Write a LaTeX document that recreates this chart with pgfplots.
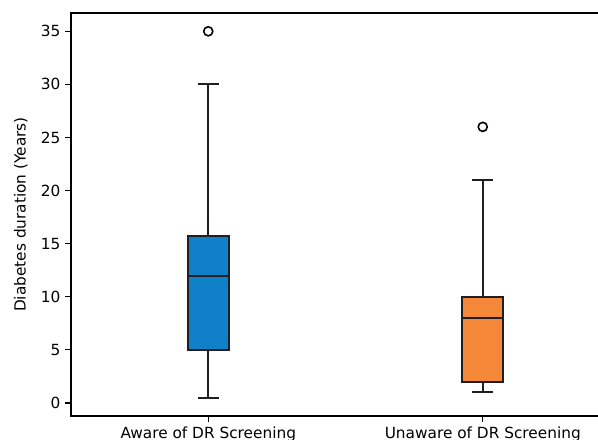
\documentclass[border=0pt]{standalone}
\usepackage{fontspec}
\setmainfont{DejaVu Sans}
\usepackage{pgfplots}
\pgfplotsset{compat=1.18}
\usepgfplotslibrary{statistics}
\definecolor{boxblue}{RGB}{16,128,200}
\definecolor{boxorange}{RGB}{245,136,56}
\definecolor{edge}{RGB}{30,30,35}
\begin{document}
\begin{tikzpicture}
\begin{axis}[
  scale only axis,
  width=411.75pt, height=302.25pt,
  xmin=0.5, xmax=2.5,
  ymin=-1.225, ymax=36.725,
  xtick={1,2},
  xticklabels={Aware of DR Screening, Unaware of DR Screening},
  ytick={0,5,10,15,20,25,30,35},
  tick align=outside,
  major tick length=4.5pt,
  tick style={black, line width=0.9pt},
  xtick pos=bottom, ytick pos=left,
  axis line style={black, line width=0.9pt},
  ylabel={Diabetes duration (Years)},
  ylabel style={font=\fontsize{11.5}{13}\selectfont, yshift=3pt},
  ticklabel style={font=\fontsize{11.5}{13}\selectfont},
  /pgf/number format/assume math mode=true,
  boxplot/draw direction=y,
  every axis plot/.append style={line width=1.4pt},
  boxplot/every whisker/.style={draw=edge, line width=1.4pt},
  boxplot/every median/.style={draw=edge, line width=1.4pt},
  boxplot/every box/.style={draw=edge, line width=1.4pt},
]
\addplot[
  boxplot prepared={
    lower whisker=0.5, lower quartile=5, median=11.95,
    upper quartile=15.75, upper whisker=30,
    draw position=1, box extend=0.15, whisker extend=0.076},
  boxplot/draw direction=y,
  fill=boxblue, draw=edge, line width=1.4pt,
  mark=o, mark size=3.4pt, mark options={draw=black, fill=none, line width=1.2pt, solid}
] coordinates {(1,35)};
\addplot[
  boxplot prepared={
    lower whisker=1, lower quartile=2, median=8,
    upper quartile=10, upper whisker=21,
    draw position=2, box extend=0.15, whisker extend=0.076},
  boxplot/draw direction=y,
  fill=boxorange, draw=edge, line width=1.4pt,
  mark=o, mark size=3.4pt, mark options={draw=black, fill=none, line width=1.2pt, solid}
] coordinates {(2,26)};
\end{axis}
\pgfresetboundingbox
\useasboundingbox (-53.25pt,-17.25pt) rectangle (395.25pt,312pt);
\end{tikzpicture}
\end{document}
